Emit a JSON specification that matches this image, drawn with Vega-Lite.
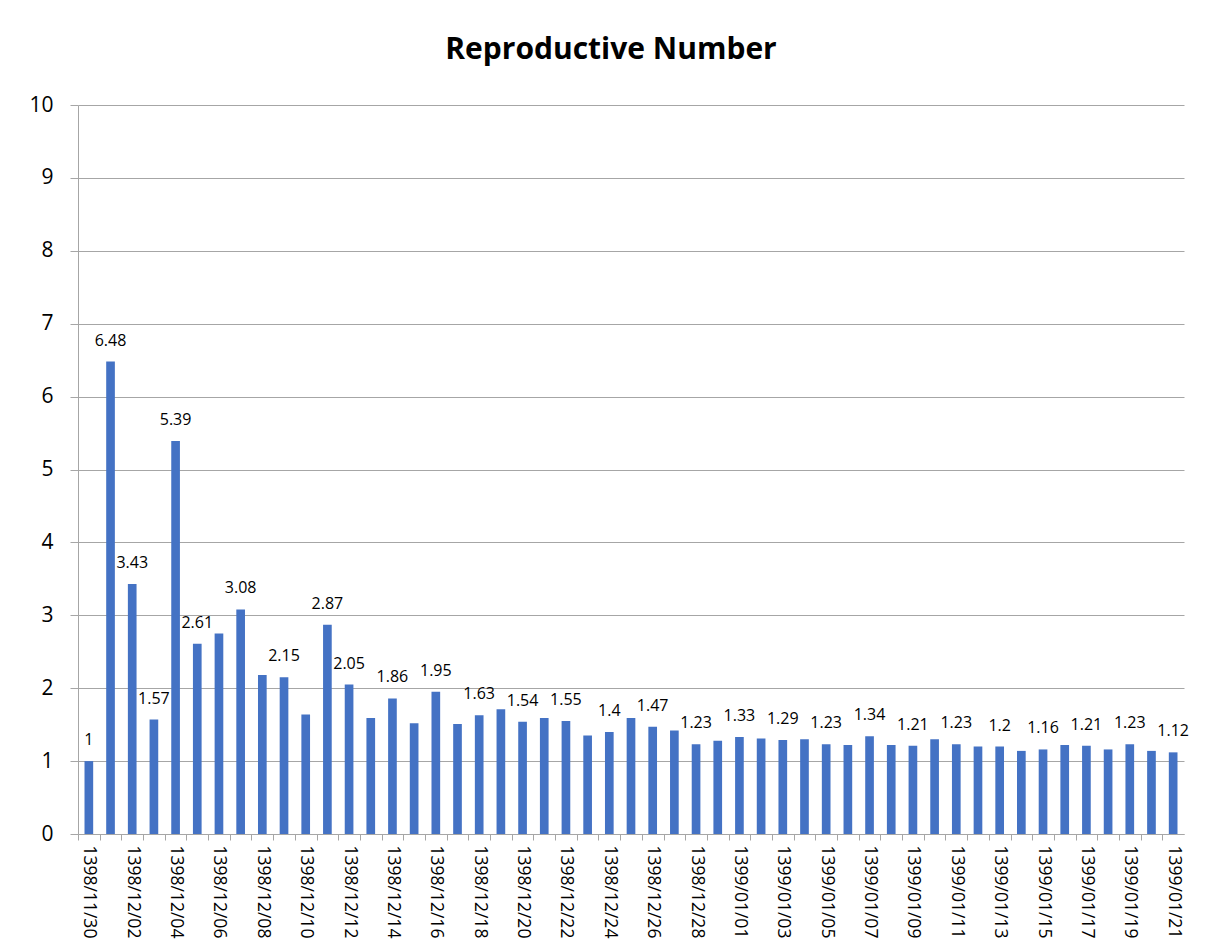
{
  "$schema": "https://vega.github.io/schema/vega-lite/v6.json",
  "autosize": "none",
  "width": 1106,
  "height": 729,
  "padding": {"left": 78, "top": 105, "right": 22, "bottom": 113},
  "background": "white",
  "title": {
    "text": "Reproductive Number",
    "font": "Open Sans",
    "fontSize": 30,
    "fontWeight": "bold",
    "color": "#000000",
    "anchor": "middle",
    "frame": "group",
    "dx": -20,
    "offset": 29
  },
  "config": {"view": {"stroke": null}},
  "data": {
    "values": [
      {"date": "1398/11/30", "r": 1.0, "label": "1"},
      {"date": "1398/12/01", "r": 6.48, "label": "6.48"},
      {"date": "1398/12/02", "r": 3.43, "label": "3.43"},
      {"date": "1398/12/03", "r": 1.57, "label": "1.57"},
      {"date": "1398/12/04", "r": 5.39, "label": "5.39"},
      {"date": "1398/12/05", "r": 2.61, "label": "2.61"},
      {"date": "1398/12/06", "r": 2.75, "label": ""},
      {"date": "1398/12/07", "r": 3.08, "label": "3.08"},
      {"date": "1398/12/08", "r": 2.18, "label": ""},
      {"date": "1398/12/09", "r": 2.15, "label": "2.15"},
      {"date": "1398/12/10", "r": 1.64, "label": ""},
      {"date": "1398/12/11", "r": 2.87, "label": "2.87"},
      {"date": "1398/12/12", "r": 2.05, "label": "2.05"},
      {"date": "1398/12/13", "r": 1.59, "label": ""},
      {"date": "1398/12/14", "r": 1.86, "label": "1.86"},
      {"date": "1398/12/15", "r": 1.52, "label": ""},
      {"date": "1398/12/16", "r": 1.95, "label": "1.95"},
      {"date": "1398/12/17", "r": 1.51, "label": ""},
      {"date": "1398/12/18", "r": 1.63, "label": "1.63"},
      {"date": "1398/12/19", "r": 1.71, "label": ""},
      {"date": "1398/12/20", "r": 1.54, "label": "1.54"},
      {"date": "1398/12/21", "r": 1.59, "label": ""},
      {"date": "1398/12/22", "r": 1.55, "label": "1.55"},
      {"date": "1398/12/23", "r": 1.35, "label": ""},
      {"date": "1398/12/24", "r": 1.4, "label": "1.4"},
      {"date": "1398/12/25", "r": 1.59, "label": ""},
      {"date": "1398/12/26", "r": 1.47, "label": "1.47"},
      {"date": "1398/12/27", "r": 1.42, "label": ""},
      {"date": "1398/12/28", "r": 1.23, "label": "1.23"},
      {"date": "1398/12/29", "r": 1.28, "label": ""},
      {"date": "1399/01/01", "r": 1.33, "label": "1.33"},
      {"date": "1399/01/02", "r": 1.31, "label": ""},
      {"date": "1399/01/03", "r": 1.29, "label": "1.29"},
      {"date": "1399/01/04", "r": 1.3, "label": ""},
      {"date": "1399/01/05", "r": 1.23, "label": "1.23"},
      {"date": "1399/01/06", "r": 1.22, "label": ""},
      {"date": "1399/01/07", "r": 1.34, "label": "1.34"},
      {"date": "1399/01/08", "r": 1.22, "label": ""},
      {"date": "1399/01/09", "r": 1.21, "label": "1.21"},
      {"date": "1399/01/10", "r": 1.3, "label": ""},
      {"date": "1399/01/11", "r": 1.23, "label": "1.23"},
      {"date": "1399/01/12", "r": 1.2, "label": ""},
      {"date": "1399/01/13", "r": 1.2, "label": "1.2"},
      {"date": "1399/01/14", "r": 1.14, "label": ""},
      {"date": "1399/01/15", "r": 1.16, "label": "1.16"},
      {"date": "1399/01/16", "r": 1.22, "label": ""},
      {"date": "1399/01/17", "r": 1.21, "label": "1.21"},
      {"date": "1399/01/18", "r": 1.16, "label": ""},
      {"date": "1399/01/19", "r": 1.23, "label": "1.23"},
      {"date": "1399/01/20", "r": 1.14, "label": ""},
      {"date": "1399/01/21", "r": 1.12, "label": "1.12"}
    ]
  },
  "encoding": {
    "x": {
      "field": "date",
      "type": "nominal",
      "sort": null,
      "scale": {"paddingInner": 0.6, "paddingOuter": 0.3},
      "axis": {
        "title": null,
        "labelAngle": 90,
        "labelAlign": "left",
        "labelBaseline": "middle",
        "labelFont": "Open Sans",
        "labelFontSize": 17.5,
        "labelColor": "#000000",
        "labelPadding": 5,
        "labelOverlap": false,
        "labelExpr": "(parseInt(slice(datum.value,8,10)) + (slice(datum.value,0,4)=='1398' ? 0 : 1)) % 2 == 0 ? datum.value : ''",
        "tickOffset": -10.84,
        "labelOffset": 10.84,
        "tickSize": 6,
        "tickColor": "#a6a6a6",
        "domainColor": "#a6a6a6",
        "grid": false
      }
    },
    "y": {
      "field": "r",
      "type": "quantitative",
      "scale": {"domain": [0, 10], "nice": false},
      "axis": {
        "title": null,
        "values": [0, 1, 2, 3, 4, 5, 6, 7, 8, 9, 10],
        "labelFont": "Open Sans",
        "labelFontSize": 21,
        "labelColor": "#000000",
        "labelPadding": 17,
        "tickSize": 8,
        "tickColor": "#a6a6a6",
        "domainColor": "#a6a6a6",
        "grid": true,
        "gridColor": "#a6a6a6",
        "gridOpacity": 1
      }
    }
  },
  "layer": [
    {"mark": {"type": "bar", "color": "#4472c4"}},
    {
      "mark": {"type": "text", "font": "Open Sans", "fontSize": 16, "color": "#000000", "baseline": "middle", "dy": -21},
      "encoding": {"text": {"field": "label", "type": "nominal"}}
    }
  ]
}
